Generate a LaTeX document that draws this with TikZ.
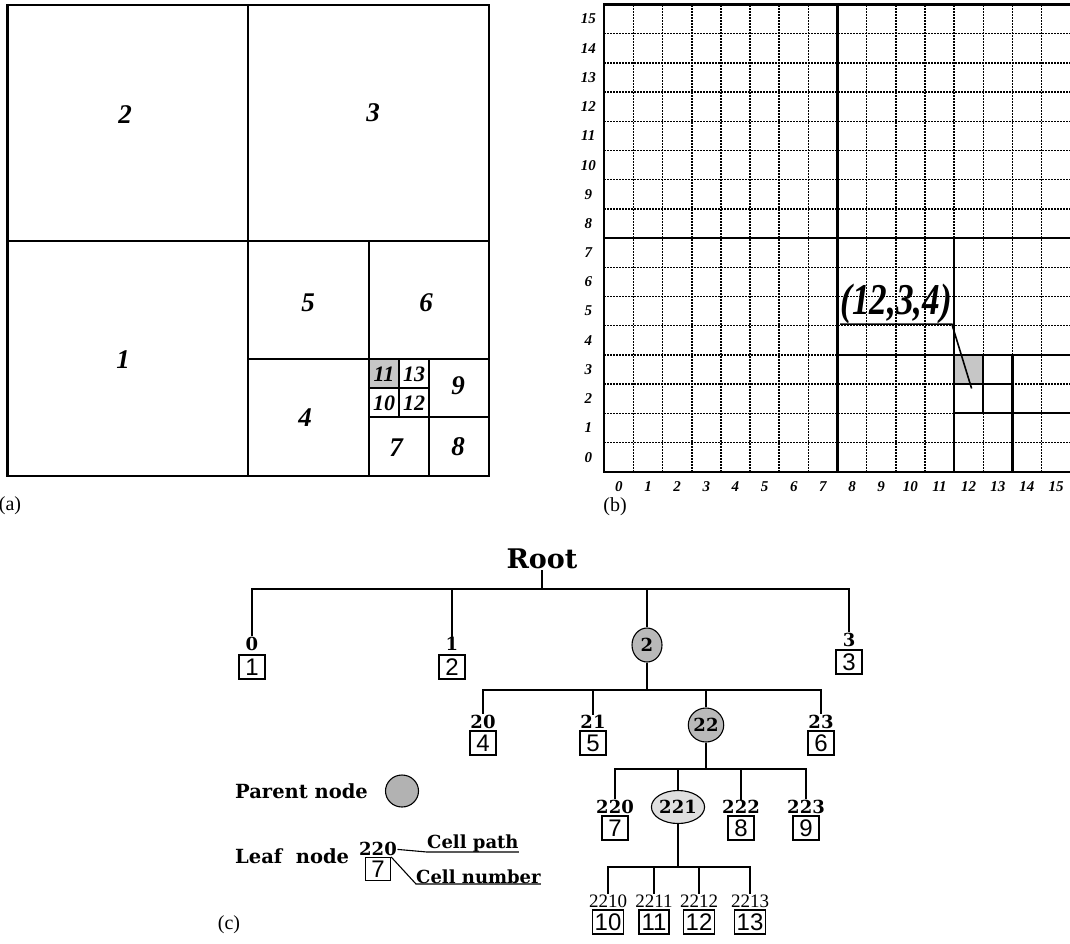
\documentclass[tikz,border=0pt]{standalone}
\usepackage{fontspec}
\setmainfont{Liberation Serif}
\newfontfamily\treefont{DejaVu Serif}
\newfontfamily\boxfont{Liberation Sans}
\usetikzlibrary{positioning,shapes.geometric}

\begin{document}
\begin{tikzpicture}[x=1pt, y=-1pt,
  quad/.style={line width=2.2pt},
  cellno/.style={font=\fontsize{27}{27}\selectfont\bfseries\itshape},
  tinyno/.style={font=\fontsize{22}{22}\selectfont\bfseries\itshape, inner sep=0pt},
  axisno/.style={font=\fontsize{15}{15}\selectfont\bfseries\itshape, inner sep=0pt},
  dotline/.style={line width=1.5pt, dash pattern=on 1.4pt off 1.6pt},
  shade/.style={fill=gray!45},
  caption/.style={font=\fontsize{20}{20}\selectfont, inner sep=0pt},
  leaf/.style={draw, line width=1.2pt, font=\boxfont\fontsize{24}{24}\selectfont,
               inner xsep=2pt, inner ysep=1pt, minimum width=26pt, minimum height=24pt},
  cellpath/.style={font=\treefont\bfseries\fontsize{18}{18}\selectfont, inner sep=0.5pt},
  deeppath/.style={font=\fontsize{19}{19}\selectfont, inner sep=0.5pt},
  parent/.style={ellipse, draw, line width=1.1pt, fill=gray!55, inner sep=0pt,
                 font=\treefont\bfseries\fontsize{18}{18}\selectfont,
                 minimum width=30pt, minimum height=34pt},
  link/.style={line width=1.1pt},
  legend/.style={font=\treefont\bfseries\fontsize{19.5}{19.5}\selectfont, inner sep=0pt, anchor=west}]
\useasboundingbox (0,0) rectangle (1070,943);

% (a)
\fill[shade] (369,359) rectangle (399,388);
\draw[quad] (7.5,5) rectangle (489,476);
\draw[quad] (248,5) -- (248,476) (7.5,241) -- (489,241);
\draw[quad] (369,241) -- (369,476) (248,359) -- (489,359);
\draw[quad] (429,359) -- (429,476) (369,417) -- (489,417);
\draw[quad] (399,359) -- (399,417) (369,388) -- (429,388);
\node[cellno] (q1) at (123,360) {1};
\node[cellno] (q2) at (125,115) {2};
\node[cellno] (q3) at (373,113) {3};
\node[cellno] (q4) at (305,418) {4};
\node[cellno] (q5) at (308,303) {5};
\node[cellno] (q6) at (426,303) {6};
\node[cellno] (q7) at (396,448) {7};
\node[cellno] (q8) at (458,447) {8};
\node[cellno] (q9) at (458,386) {9};
\node[tinyno] (q10) at (384,403) {10};
\node[tinyno] (q11) at (384,374) {11};
\node[tinyno] (q12) at (414,403) {12};
\node[tinyno] (q13) at (414,374) {13};
\node[caption] (capa) at (10,506) {(a)};

% (b)
\begin{scope}[shift={(604.3,471.7)}, x=29.15pt, y=29.2pt]
  \foreach \i in {1,...,15}{
    \draw[dotline] (\i,0) -- (\i,16);
    \draw[dotline] (0,\i) -- (16,\i);
  }
  \fill[shade] (12,3) rectangle (13,4);
  \draw[quad] (0,0) rectangle (16,16);
  \draw[quad] (8,0) -- (8,16) (0,8) -- (16,8);
  \draw[quad] (12,0) -- (12,8) (8,4) -- (16,4);
  \draw[quad] (14,0) -- (14,4) (12,2) -- (16,2);
  \draw[quad] (13,2) -- (13,4) (12,3) -- (14,3);
  \foreach \i in {0,...,15}{
    \node[axisno] (xl\i) at (\i+0.5,-0.52) {\i};
    \node[axisno] (yl\i) at (-0.55,\i+0.5) {\i};
  }
  \coordinate (target) at (12.6,2.85);
\end{scope}
\node[font=\fontsize{44}{44}\selectfont\bfseries\itshape, inner sep=0pt, xscale=0.8]
  (pick) at (896,304) {(12,3,4)};
\draw[line width=1.6pt] (pick.south west) -- (pick.south east) -- (target);
\node[caption] (capb) at (615,507) {(b)};

% (c)
\node[font=\treefont\bfseries\fontsize{27}{27}\selectfont, inner sep=1pt] (root) at (542,559) {Root};
\coordinate (j0) at (542,589);

\node[leaf] (n1) at (252,667) {1};
\node[leaf] (n2) at (452,667) {2};
\node[parent] (c2) at (647,645) {2};
\node[leaf] (n3) at (849,662) {3};
\node[cellpath, above=3pt of n1] (p0) {0};
\node[cellpath, above=3pt of n2] (p1) {1};
\node[cellpath, above=2pt of n3] (p3) {3};
\coordinate (j1) at (c2 |- 0,690);

\node[leaf] (n4) at (483,743) {4};
\node[leaf] (n5) at (593,743) {5};
\node[parent] (c22) at (706,725) {22};
\node[leaf] (n6) at (821,743) {6};
\node[cellpath, above=1pt of n4] (p20) {20};
\node[cellpath, above=1pt of n5] (p21) {21};
\node[cellpath, above=1pt of n6] (p23) {23};
\coordinate (j2) at (c22 |- 0,769);

\node[leaf] (n7) at (615,828) {7};
\node[parent, fill=gray!25, minimum width=49pt, minimum height=33pt] (c221) at (678,807) {221};
\node[leaf] (n8) at (741,828) {8};
\node[leaf] (n9) at (806,828) {9};
\node[cellpath, above=1pt of n7] (p220) {220};
\node[cellpath, above=1pt of n8] (p222) {222};
\node[cellpath, above=1pt of n9] (p223) {223};
\coordinate (j3) at (c221 |- 0,867);

\node[leaf, minimum width=30pt] (n10) at (608,922) {10};
\node[leaf, minimum width=30pt] (n11) at (654,922) {11};
\node[leaf, minimum width=30pt] (n12) at (699,922) {12};
\node[leaf, minimum width=30pt] (n13) at (750,922) {13};
\node[deeppath, above=1pt of n10] (p2210) {2210};
\node[deeppath, above=1pt of n11] (p2211) {2211};
\node[deeppath, above=1pt of n12] (p2212) {2212};
\node[deeppath, above=1pt of n13] (p2213) {2213};

\draw[link] (root) -- (j0);
\foreach \n in {p0,p1,c2,p3} \draw[link] (j0) -| (\n);
\draw[link] (c2) -- (j1);
\foreach \n in {p20,p21,c22,p23} \draw[link] (j1) -| (\n);
\draw[link] (c22) -- (j2);
\foreach \n in {p220,c221,p222,p223} \draw[link] (j2) -| (\n);
\draw[link] (c221) -- (j3);
\foreach \n in {p2210,p2211,p2212,p2213} \draw[link] (j3) -| (\n);

\node[legend] (lpar) at (235,791) {Parent node};
\node[parent, fill=gray!60, minimum width=33pt, minimum height=32pt] (lcirc) at (402,791) {};
\node[legend] (lleaf) at (235,856) {Leaf\ \ node};
\node[leaf, minimum width=25pt, minimum height=23pt] (lbox) at (378,869) {7};
\node[cellpath, above=0pt of lbox] (lpath) {220};
\node[legend, font=\treefont\bfseries\fontsize{18}{18}\selectfont, inner sep=0pt,
      anchor=south west] (cpath) at (427,852) {Cell path};
\node[legend, font=\treefont\bfseries\fontsize{18}{18}\selectfont, inner sep=0pt,
      anchor=south west] (cnum) at (416,884) {Cell number};
\draw[link] (lpath.east) -- (cpath.south west) -- (cpath.south east);
\draw[link] (lbox.north east) -- (cnum.south west) -- (cnum.south east);
\node[caption] (capc) at (229,925) {(c)};
\end{tikzpicture}
\end{document}
